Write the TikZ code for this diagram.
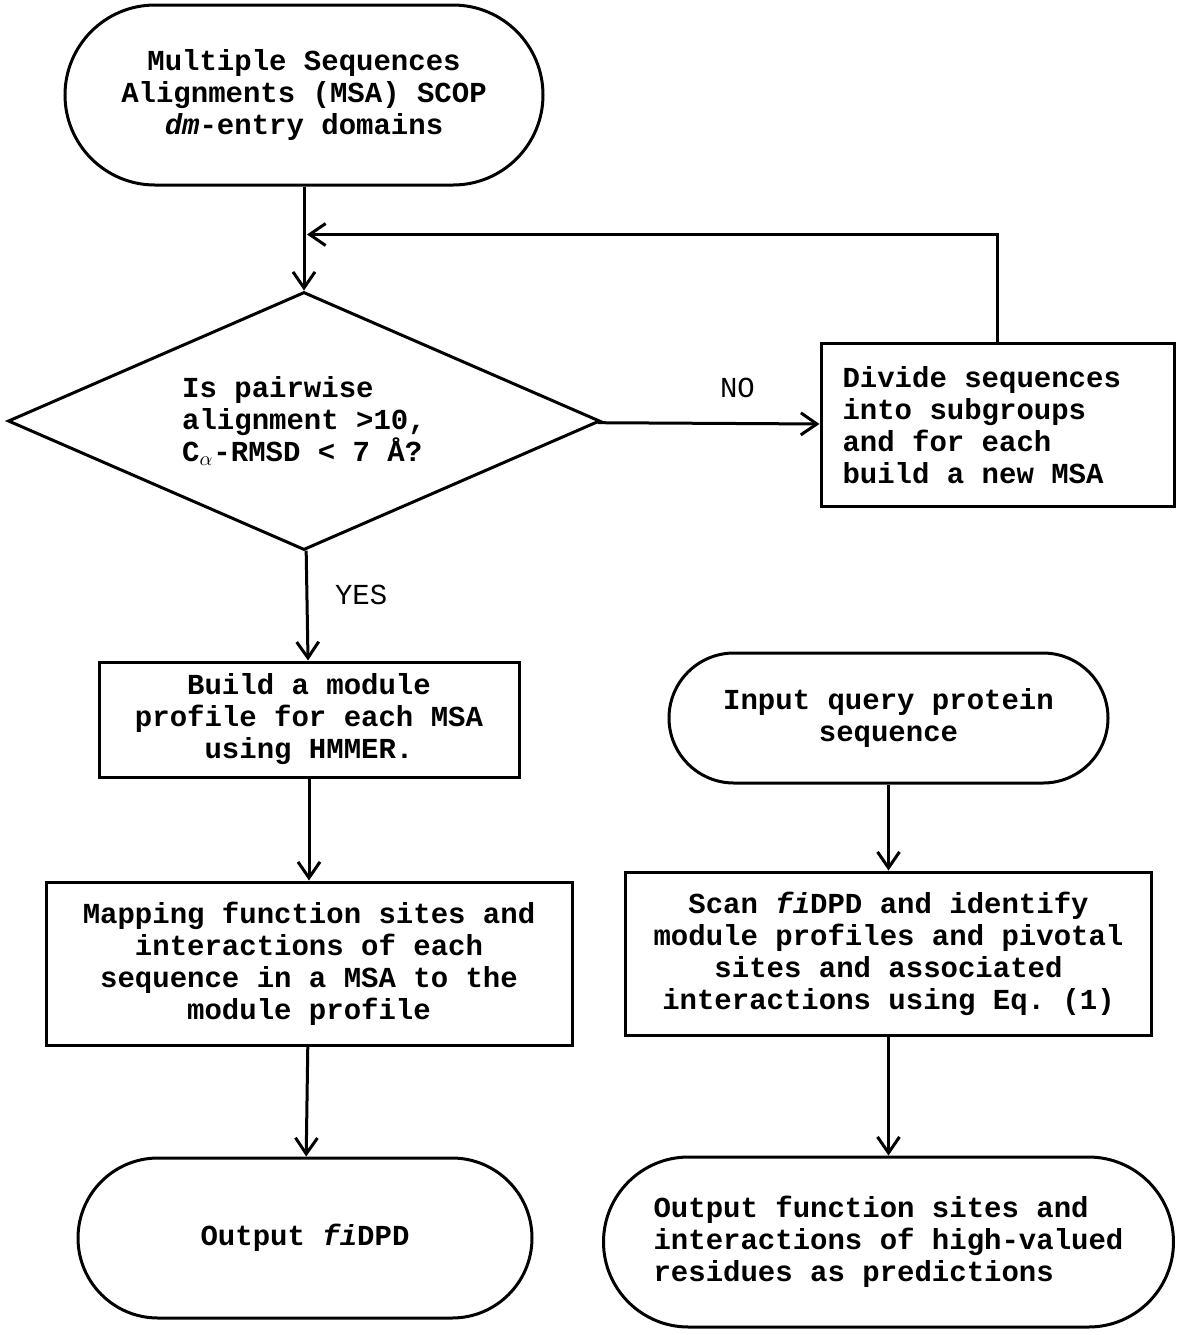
\documentclass[tikz,border=0pt]{standalone}
\usepackage{fontspec}
\setmonofont{Liberation Mono}
\usetikzlibrary{arrows.meta,positioning,shapes.geometric}

\begin{document}
\begin{tikzpicture}[->,>={Straight Barb[length=8pt,width=11pt]},line width=1.5pt,
                    node distance=50pt,
                    font=\ttfamily\bfseries\fontsize{14.5}{16}\selectfont,
                    terminal/.style={rectangle,draw,rounded corners=#1,inner sep=0pt},
                    process/.style={rectangle,draw,inner sep=0pt,align=center},
                    decision/.style={diamond,draw,inner sep=0pt,align=left,aspect=2.29},
                    answer/.style={font=\ttfamily\fontsize{14.5}{16}\selectfont}]
    \useasboundingbox (0,0) rectangle (590.5pt,-667.5pt);
    \node[terminal=45pt,minimum width=239pt,minimum height=90pt,align=center] (start)
        at (152pt,-47.5pt) {Multiple Sequences\\Alignments (MSA) SCOP\\\textit{dm}-entry domains};
    \node[decision,minimum width=296pt,minimum height=129pt] (check)
        [below=52pt of start] {Is pairwise\\alignment >10,\\C$_\alpha$-RMSD < 7 Å?};
    \node[process,minimum width=176.5pt,minimum height=81.5pt,text width=155pt,align=flush left] (divide)
        [right=109pt of check,yshift=-2pt] {Divide sequences\\into subgroups\\and for each\\build a new MSA};
    \node[process,minimum width=210pt,minimum height=57.5pt] (build)
        [below=54.5pt of check,xshift=2.5pt] {Build a module\\profile for each MSA\\using HMMER.};
    \node[process,minimum width=263pt,minimum height=81.5pt] (mapping)
        [below=51pt of build] {Mapping function sites and\\interactions of each\\sequence in a MSA to the\\module profile};
    \node[terminal=40pt,minimum width=227pt,minimum height=80pt] (database)
        [below=55pt of mapping,xshift=-2pt] {Output \textit{fi}DPD};
    \node[terminal=32.5pt,minimum width=219.5pt,minimum height=65pt,align=center] (query)
        at (444.25pt,-359pt) {Input query protein\\sequence};
    \node[process,minimum width=263pt,minimum height=81.5pt] (scan)
        [below=43pt of query] {Scan \textit{fi}DPD and identify\\module profiles and pivotal\\sites and associated\\interactions using Eq. (1)};
    \node[terminal=42.5pt,minimum width=285pt,minimum height=85pt,align=left] (predict)
        [below=59.5pt of scan] {Output function sites and\\interactions of high-valued\\residues as predictions};

    % loop back from the subgroups
    \coordinate (join) at ([yshift=-24pt]start.south);

    \path
        (start) edge (check)
        (check) edge node[answer,above=9pt,pos=0.63] {NO} (divide)
        (check) edge node[answer,right=10pt,pos=0.4] {YES} (build)
        (build) edge (mapping)
        (mapping) edge (database)
        (query) edge (scan)
        (scan) edge (predict);
    \draw[shorten >=1.5pt] (divide.north) |- (join);
\end{tikzpicture}
\end{document}
